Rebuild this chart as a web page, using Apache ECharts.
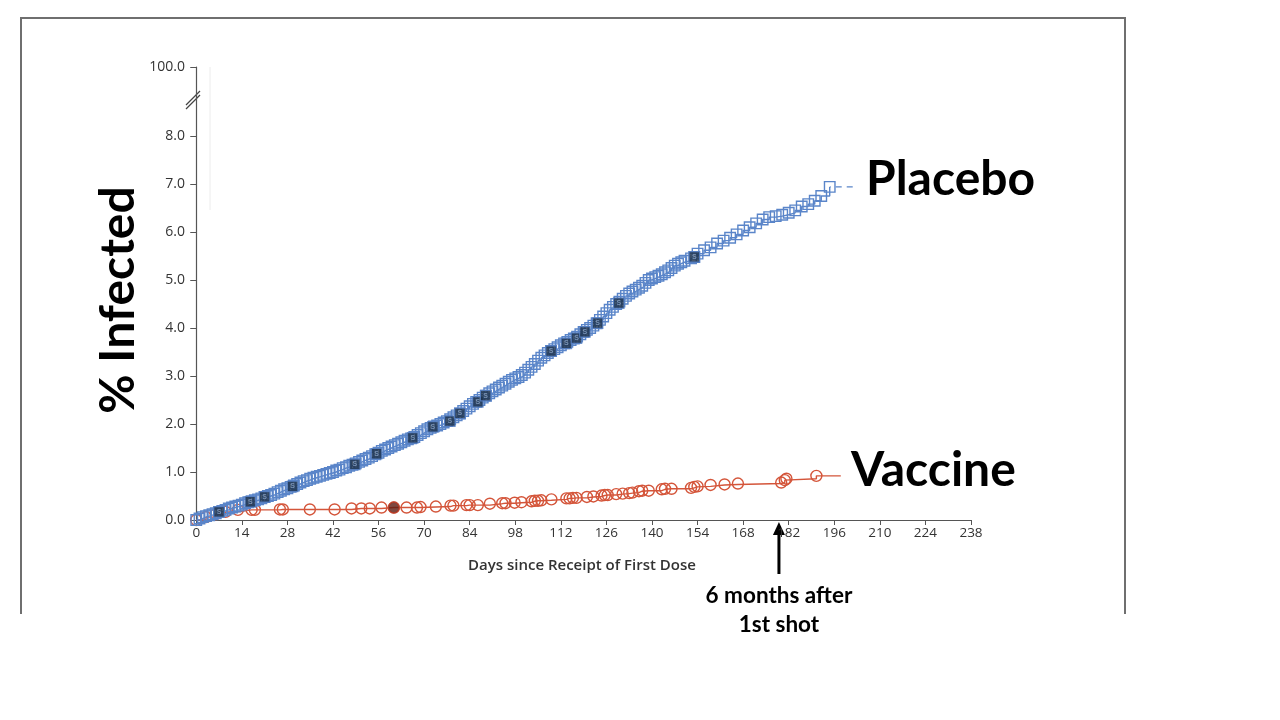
<!DOCTYPE html>
<html>
<head>
<meta charset="utf-8">
<script src="https://cdn.jsdelivr.net/npm/echarts@6/dist/echarts.min.js"></script>
<style>
html,body{margin:0;padding:0;background:#fff;}
#c{width:1280px;height:720px;}
</style>
</head>
<body>
<div id="c"></div>
<script>
// ---- data ----
const xTicks = [0,14,28,42,56,70,84,98,112,126,140,154,168,182,196,210,224,238];
const yTicks = [0,1,2,3,4,5,6,7,8];
const yTopValue = 9.4375;      // position of the broken-axis "100.0" label
const yTopLabel = '100.0';

const placebo = [
[0,0.00],[1,0.03],[2,0.06],[3,0.08],[4,0.10],[5,0.12],[6,0.14],[7,0.17],[8,0.19],[9,0.21],
[10,0.24],[11,0.26],[12,0.28],[13,0.30],[14,0.32],[15,0.35],[16,0.37],[17,0.39],[18,0.41],[19,0.43],
[20,0.45],[21,0.48],[22,0.50],[23,0.52],[24,0.55],[25,0.58],[26,0.61],[27,0.64],[28,0.66],[29,0.69],
[30,0.72],[31,0.75],[32,0.78],[33,0.81],[34,0.83],[35,0.86],[36,0.88],[37,0.90],[38,0.92],[39,0.94],
[40,0.96],[41,0.98],[42,1.00],[43,1.03],[44,1.05],[45,1.08],[46,1.10],[47,1.13],[48,1.15],[49,1.18],
[50,1.21],[51,1.24],[52,1.27],[53,1.30],[54,1.33],[55,1.37],[56,1.40],[57,1.44],[58,1.47],[59,1.50],
[60,1.53],[61,1.56],[62,1.59],[63,1.62],[64,1.65],[65,1.68],[66,1.70],[67,1.73],[68,1.77],[69,1.81],
[70,1.85],[71,1.89],[72,1.92],[73,1.95],[74,1.97],[75,2.00],[76,2.03],[77,2.06],[78,2.10],[79,2.14],
[80,2.18],[81,2.22],[82,2.27],[83,2.32],[84,2.37],[85,2.42],[86,2.46],[87,2.50],[88,2.55],[89,2.59],
[90,2.64],[91,2.68],[92,2.72],[93,2.76],[94,2.80],[95,2.84],[96,2.88],[97,2.92],[98,2.95],[99,2.98],
[100,3.02],[101,3.07],[102,3.13],[103,3.19],[104,3.25],[105,3.32],[106,3.38],[107,3.43],[108,3.48],[109,3.52],
[110,3.56],[111,3.60],[112,3.64],[113,3.68],[114,3.71],[115,3.75],[116,3.78],[117,3.82],[118,3.87],[119,3.92],
[120,3.96],[121,4.00],[122,4.05],[123,4.10],[124,4.17],[125,4.24],[126,4.31],[127,4.38],[128,4.44],[129,4.50],
[130,4.55],[131,4.61],[132,4.67],[133,4.72],[134,4.76],[135,4.80],[136,4.84],[137,4.88],[138,4.94],[139,5.00],
[140,5.03],[141,5.06],[142,5.09],[143,5.12],[144,5.16],[145,5.20],[146,5.25],[147,5.30],[148,5.34],[149,5.37],
[150,5.40],[152,5.45],[153,5.48],[154,5.55],[156,5.62],[158,5.68],[160,5.76],[162,5.82],[164,5.88],[166,5.95],
[168,6.03],[170,6.10],[172,6.18],[174,6.26],[176,6.31],[178,6.33],[180,6.36],[182,6.40],[184,6.45],[186,6.53],
[188,6.58],[190,6.65],[192,6.75],[194.6,6.94]
];
const placeboTail = [[194.6,6.94],[202,6.94]];
const placeboSevere = [
[7,0.17],[16.6,0.38],[21,0.48],[29.6,0.70],[48.7,1.16],[55.4,1.38],[66.5,1.71],[72.7,1.94],[77.9,2.06],
[81,2.22],[86.5,2.46],[88.9,2.59],[109,3.52],[113.7,3.68],[116.8,3.79],[119.4,3.92],[123.3,4.10],[129.8,4.52],[153,5.48]
];
const vaccine = [
[0,0],[3,0.06],[6,0.12],[9,0.17],[12.8,0.21],[17,0.21],[18,0.21],[25.7,0.22],[26.6,0.22],[34.9,0.22],
[42.5,0.22],[47.7,0.24],[50.7,0.24],[53.3,0.24],[56.9,0.26],[60.7,0.26],[64.6,0.26],[67.8,0.26],[68.9,0.27],
[73.6,0.28],[78.1,0.30],[79,0.30],[83,0.31],[84,0.31],[86.5,0.31],[90.2,0.34],[94,0.35],[95,0.35],[97.8,0.36],
[99.9,0.37],[103,0.39],[104,0.40],[105,0.40],[106,0.41],[109.1,0.43],[113.7,0.45],[114.7,0.45],[115.7,0.46],
[116.8,0.46],[120,0.48],[122,0.49],[124.5,0.51],[125.5,0.52],[126.4,0.52],[129,0.54],[131,0.55],[133,0.56],
[134,0.57],[136,0.60],[137,0.61],[139,0.61],[143,0.64],[144,0.65],[146,0.65],[152,0.67],[153,0.69],[154,0.70],
[158,0.73],[162.3,0.74],[166.4,0.76],[179.7,0.78],[180.8,0.83],[181.3,0.86],[190.5,0.92]
];
const vaccineEnd = [198,0.92];
const vaccineSevere = [[60.7,0.26]];
const arrowDay = 179;

// ---- chart ----
const BLUE = '#5a85c9', RED = '#d4553a';
const chart = echarts.init(document.getElementById('c'), null, {renderer:'canvas'});
const tickFont = {fontFamily:'Open Sans', fontSize:14, color:'#333'};

chart.setOption({
  animation:false,
  backgroundColor:'#fff',
  grid:{left:193, right:309, top:67, bottom:200},
  xAxis:{
    type:'value', min:-1, max:238,
    axisLine:{lineStyle:{color:'#555', width:1.2}},
    axisTick:{show:true, length:5, customValues:xTicks, lineStyle:{color:'#555'}},
    axisLabel:Object.assign({customValues:xTicks, margin:6}, tickFont, {fontSize:13.5}),
    splitLine:{show:false},
    name:'Days since Receipt of First Dose', nameLocation:'middle', nameGap:38,
    nameTextStyle:{fontFamily:'Open Sans', fontSize:15, fontWeight:600, color:'#333'}
  },
  yAxis:{
    type:'value', min:0, max:yTopValue,
    axisLine:{show:true, lineStyle:{color:'#555', width:1.2}},
    axisTick:{show:true, length:6, customValues:yTicks.concat([yTopValue]), lineStyle:{color:'#555'}},
    axisLabel:Object.assign({customValues:yTicks.concat([yTopValue]), margin:8,
      formatter:v => v > 9 ? yTopLabel : v.toFixed(1)}, tickFont),
    splitLine:{show:false}
  },
  series:[
    {type:'line', name:'Vaccine', step:'end', z:2,
     data:vaccine.concat([{value:vaccineEnd, symbol:'none'}]),
     symbol:'circle', symbolSize:11,
     lineStyle:{color:RED, width:1.4},
     itemStyle:{color:'rgba(255,255,255,0)', borderColor:RED, borderWidth:1.4}},
    {type:'scatter', name:'Vaccine severe', data:vaccineSevere, z:3,
     symbol:'circle', symbolSize:11,
     itemStyle:{color:'#5e1a10', borderColor:'#c0442e', borderWidth:1.4}},
    {type:'line', name:'Placebo', step:'end', z:4, data:placebo,
     symbol:'rect', symbolSize:10.5,
     lineStyle:{color:BLUE, width:1.4},
     itemStyle:{color:'rgba(255,255,255,0)', borderColor:BLUE, borderWidth:1.4}},
    {type:'line', name:'Placebo tail', data:placeboTail, symbol:'none', z:4,
     lineStyle:{color:BLUE, width:1.4, type:[6,5], dashOffset:5}},
    {type:'scatter', name:'Placebo severe', data:placeboSevere, z:5,
     symbol:'rect', symbolSize:10.5,
     itemStyle:{color:'#1b3049', borderColor:BLUE, borderWidth:1.2},
     label:{show:true, formatter:'S', position:'inside', fontSize:7, fontWeight:'bold', color:'#8aa4c8'}}
  ]
});

// ---- annotations ----
const pArrowTop = chart.convertToPixel({gridIndex:0}, [arrowDay, 0]);
const pBreak = chart.convertToPixel({gridIndex:0}, [-1, 8.75]);
const ax = pArrowTop[0];
const yAxisX = pBreak[0], by = pBreak[1];
chart.setOption({
  graphic:[
    {type:'polyline', shape:{points:[[21,614],[21,18],[1125,18],[1125,614]]},
     style:{stroke:'#6f6f6f', lineWidth:2, fill:null}, silent:true},
    {type:'line', shape:{x1:210, y1:67, x2:210, y2:210}, style:{stroke:'#ececec', lineWidth:1}},
    {type:'line', shape:{x1:yAxisX-7, y1:by+5, x2:yAxisX+7, y2:by-9}, style:{stroke:'#444', lineWidth:1.3}},
    {type:'line', shape:{x1:yAxisX-7, y1:by+9, x2:yAxisX+7, y2:by-5}, style:{stroke:'#444', lineWidth:1.3}},
    {type:'line', shape:{x1:ax, y1:574, x2:ax, y2:534}, style:{stroke:'#000', lineWidth:3}},
    {type:'polygon', shape:{points:[[ax,pArrowTop[1]+2],[ax-6,pArrowTop[1]+15],[ax+6,pArrowTop[1]+15]]}, style:{fill:'#000'}},
    {type:'text', x:119, y:300, rotation:Math.PI/2,
     style:{text:'% Infected', font:'bold 48px Lato', fill:'#000', align:'center', verticalAlign:'middle'}},
    {type:'text', x:866, y:180, style:{text:'Placebo', font:'bold 48px Lato', fill:'#000', verticalAlign:'middle'}},
    {type:'text', x:851, y:471, style:{text:'Vaccine', font:'bold 48px Lato', fill:'#000', verticalAlign:'middle'}},
    {type:'text', x:ax, y:596, style:{text:'6 months after', font:'bold 22.5px Lato', fill:'#000', align:'center', verticalAlign:'middle'}},
    {type:'text', x:ax, y:625, style:{text:'1st shot', font:'bold 22.5px Lato', fill:'#000', align:'center', verticalAlign:'middle'}}
  ]
});
</script>
</body>
</html>
